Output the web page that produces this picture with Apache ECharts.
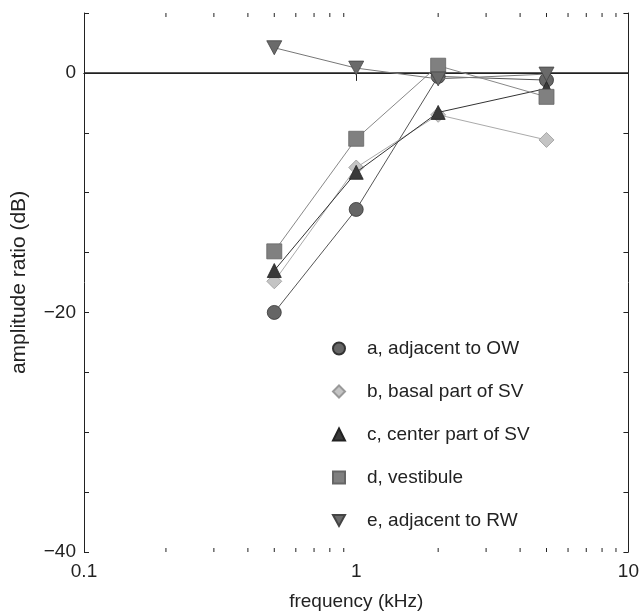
<!DOCTYPE html>
<html><head><meta charset="utf-8">
<script src="https://cdn.jsdelivr.net/npm/echarts@6/dist/echarts.min.js"></script>
<style>html,body{margin:0;padding:0;background:#fff}#c{width:642px;height:616px}</style>
</head><body><div id="c"></div>
<script>
const freqs = [0.5, 1, 2, 5];
const seriesNames = ['a, adjacent to OW','b, basal part of SV','c, center part of SV','d, vestibule','e, adjacent to RW'];
const aVals = [-20.0, -11.4, -0.3, -0.6];
const bVals = [-17.4, -7.9, -3.5, -5.6];
const cVals = [-16.5, -8.3, -3.3, -1.3];
const dVals = [-14.9, -5.5, 0.6, -2.0];
const eVals = [2.1, 0.4, -0.5, -0.1];
const yTickLabels = [-40, -20, 0];
const xMinorTicks = [0.2,0.3,0.4,0.5,0.6,0.7,0.8,0.9,2,3,4,5,6,7,8,9];
const Y_MIN = -40, Y_MAX = 5;

const FONT = 'Liberation Sans';
const FS = 19;
const downTri = 'path://M0,0 L10,0 L5,9 Z';
const styles = [
  {symbol:'circle', size:14, fill:'#666', border:'#333', line:'#555'},
  {symbol:'diamond', size:15, fill:'#c4c4c4', border:'#999', line:'#aaa'},
  {symbol:'triangle', size:14, fill:'#3a3a3a', border:'#222', line:'#333'},
  {symbol:'rect', size:15, fill:'#808080', border:'#666', line:'#888'},
  {symbol:downTri, size:[15,14], fill:'#6a6a6a', border:'#444', line:'#777'}
];
const allVals = [aVals, bVals, cVals, dVals, eVals];

const lineSeries = allVals.map((vals, i) => ({
  name: seriesNames[i],
  type: 'line',
  data: freqs.map((f, k) => [f, vals[k]]),
  symbol: styles[i].symbol,
  symbolSize: styles[i].size,
  itemStyle: {color: styles[i].fill, borderColor: styles[i].border, borderWidth: 0.8},
  lineStyle: {color: styles[i].line, width: 1},
  z: 3 + i,
  animation: false
}));

lineSeries[0].markLine = {
  silent: true, symbol: 'none', label: {show: false},
  lineStyle: {color: '#222', width: 1.5, type: 'solid'},
  data: [{yAxis: 0}], animation: false
};

const minorSeries = {
  type: 'custom',
  xAxisIndex: 0, yAxisIndex: 0,
  data: xMinorTicks.map(v => [v, Y_MIN]),
  silent: true,
  clip: false,
  renderItem: function(params, api) {
    const v = api.value(0);
    const b = api.coord([v, Y_MIN]);
    const t = api.coord([v, Y_MAX]);
    return {type: 'group', children: [
      {type: 'line', shape: {x1: b[0], y1: b[1], x2: b[0], y2: b[1] - 4}, style: {stroke: '#222', lineWidth: 1}},
      {type: 'line', shape: {x1: t[0], y1: t[1], x2: t[0], y2: t[1] + 4}, style: {stroke: '#222', lineWidth: 1}}
    ]};
  },
  animation: false
};

const axisCommon = {
  axisLine: {show: true, lineStyle: {color: '#222', width: 1}},
  axisTick: {show: true, inside: true, length: 5, lineStyle: {color: '#222'}},
  splitLine: {show: false}
};

const option = {
  backgroundColor: '#fff',
  animation: false,
  grid: {left: 84, right: 12, top: 13, bottom: 58},
  legend: {
    orient: 'vertical',
    left: 327, top: 334,
    itemWidth: 12, itemHeight: 12,
    itemGap: 24,
    textStyle: {fontFamily: FONT, fontSize: FS, color: '#222', padding: [0,0,0,17]},
    data: seriesNames.map((n, i) => ({name: n, icon: i === 4 ? downTri : styles[i].symbol})),
    selectedMode: false
  },
  xAxis: [
    Object.assign({}, axisCommon, {
      type: 'log', logBase: 10, min: 0.1, max: 10, position: 'bottom',
      axisTick: {show: true, inside: true, length: 8, lineStyle: {color: '#222'}},
      axisLabel: {fontFamily: FONT, fontSize: FS, color: '#222', margin: 10,
        formatter: v => (v < 1 ? String(Math.round(v*10)/10) : String(Math.round(v)))},
      name: 'frequency (kHz)', nameLocation: 'middle', nameGap: 40,
      nameTextStyle: {fontFamily: FONT, fontSize: FS, color: '#222'}
    }),
    Object.assign({}, axisCommon, {
      type: 'log', logBase: 10, min: 0.1, max: 10, position: 'top',
      axisTick: {show: true, inside: true, length: 8, lineStyle: {color: '#222'}},
      axisLabel: {show: false}
    })
  ],
  yAxis: [
    Object.assign({}, axisCommon, {
      type: 'value', min: Y_MIN, max: Y_MAX, interval: 5, position: 'left',
      axisLabel: {fontFamily: FONT, fontSize: FS, color: '#222', margin: 8,
        formatter: v => (yTickLabels.indexOf(v) >= 0 ? String(v).replace('-', '\u2212') : '')},
      name: 'amplitude ratio (dB)', nameLocation: 'middle', nameGap: 54,
      nameTextStyle: {fontFamily: FONT, fontSize: 21, color: '#222'}
    }),
    Object.assign({}, axisCommon, {
      type: 'value', min: Y_MIN, max: Y_MAX, interval: 5, position: 'right',
      axisLabel: {show: false}
    })
  ],
  series: [minorSeries].concat(lineSeries)
};

const chart = echarts.init(document.getElementById('c'), null, {renderer: 'canvas'});
chart.setOption(option);
</script>
</body></html>
